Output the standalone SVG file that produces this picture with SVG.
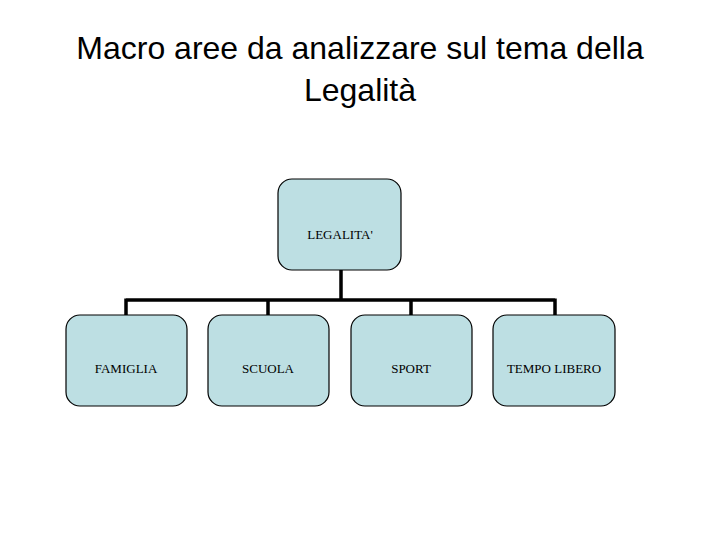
<svg xmlns="http://www.w3.org/2000/svg" width="720" height="540" viewBox="0 0 720 540">
<style>
.title{font-family:"Liberation Sans",Arial,sans-serif;font-size:32px;fill:#000;text-anchor:middle}
.box{fill:#BDDFE3;stroke:#000;stroke-width:1.2}
.lbl{font-family:"Liberation Serif","Times New Roman",serif;font-size:13px;fill:#000;text-anchor:middle}
.conn{fill:none;stroke:#000;stroke-width:3.5}
</style>
<rect width="720" height="540" fill="#fff"/>
<text class="title" x="360" y="59">Macro aree da analizzare sul tema della</text>
<text class="title" x="360" y="101">Legalità</text>
<g id="connectors">
<path class="conn" d="M341 270V300M126 300H555M126 298.5V315M268 298.5V315M411 298.5V315M555 298.5V315"/>
</g>
<g id="legalita"><rect class="box" x="278" y="179" width="123" height="91" rx="14"/><text class="lbl" x="340" y="239">LEGALITA'</text></g>
<g id="famiglia"><rect class="box" x="66" y="315" width="121" height="91" rx="14"/><text class="lbl" x="126" y="373">FAMIGLIA</text></g>
<g id="scuola"><rect class="box" x="208" y="315" width="121" height="91" rx="14"/><text class="lbl" x="268" y="373">SCUOLA</text></g>
<g id="sport"><rect class="box" x="351" y="315" width="121" height="91" rx="14"/><text class="lbl" x="411" y="373">SPORT</text></g>
<g id="tempolibero"><rect class="box" x="493" y="315" width="122" height="91" rx="14"/><text class="lbl" x="554" y="373">TEMPO LIBERO</text></g>
</svg>
